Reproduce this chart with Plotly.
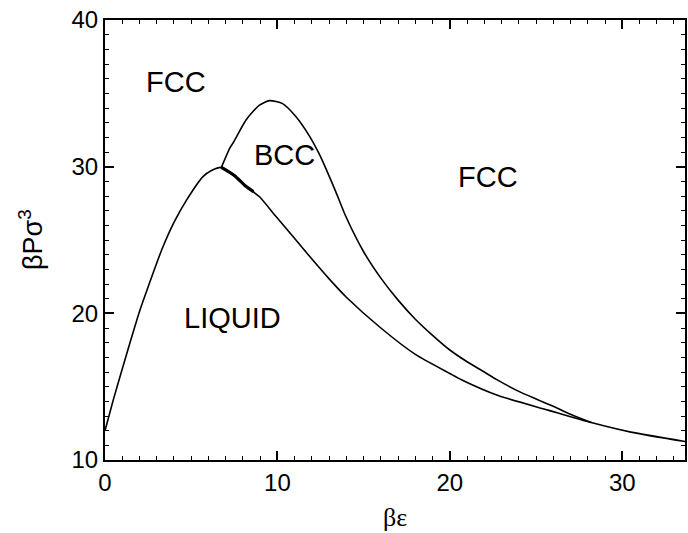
import plotly.graph_objects as go

# Liquid / solid boundary (lower curve)
lower_x = [0, 0.48, 1.0, 1.5, 2.02, 2.5, 3.28, 4.0, 4.72, 5.67, 6.2, 6.75, 7.5, 8.19, 8.96, 9.92,
           11, 12, 13, 14, 16, 18, 20, 20.7, 22.8, 25.7, 28.2, 30.5, 33.7]
lower_y = [12.0, 14.1, 16.2, 18.2, 20.2, 21.8, 24.3, 26.2, 27.7, 29.3, 29.75, 29.95, 29.4, 28.64, 27.95, 26.6,
           25.1, 23.7, 22.35, 21.1, 19.0, 17.2, 15.9, 15.46, 14.4, 13.4, 12.55, 11.9, 11.25]

# BCC / FCC boundary (upper curve)
upper_x = [6.75, 7.23, 7.42, 8.19, 8.96, 9.54, 10.3, 11.08, 11.85, 12.43, 12.8, 13.4, 13.97,
           15, 16, 17, 18, 19, 20, 21, 22, 22.7, 24, 25, 26, 27, 28.2]
upper_y = [29.95, 31.25, 31.6, 33.2, 34.2, 34.5, 34.3, 33.4, 32.1, 30.85, 29.9, 28.25, 26.6,
           24.2, 22.4, 20.9, 19.6, 18.5, 17.5, 16.7, 16.0, 15.5, 14.68, 14.16, 13.66, 13.12, 12.55]

# Liquid-BCC coexistence segment (drawn thicker)
thick_x = [6.75, 7.5, 8.19, 8.6]
thick_y = [29.95, 29.4, 28.64, 28.3]

region_labels = ["FCC", "BCC", "FCC", "LIQUID"]
region_x = [4.1, 10.4, 22.2, 7.4]
region_y = [35.8, 30.8, 29.3, 19.7]

x_ticks = [0, 10, 20, 30]
y_ticks = [10, 20, 30, 40]

fig = go.Figure()
fig.add_trace(go.Scatter(x=lower_x, y=lower_y, mode="lines",
                         line=dict(color="black", width=1.6, shape="spline", smoothing=0.6),
                         showlegend=False, hoverinfo="skip"))
fig.add_trace(go.Scatter(x=upper_x, y=upper_y, mode="lines",
                         line=dict(color="black", width=1.6, shape="spline", smoothing=0.6),
                         showlegend=False, hoverinfo="skip"))
fig.add_trace(go.Scatter(x=thick_x, y=thick_y, mode="lines",
                         line=dict(color="black", width=3.2, shape="spline", smoothing=0.6),
                         showlegend=False, hoverinfo="skip"))

for t, x, y in zip(region_labels, region_x, region_y):
    fig.add_annotation(x=x, y=y, text=t, showarrow=False,
                       font=dict(family="Liberation Sans, Arial", size=29, color="black"),
                       xanchor="center", yanchor="middle")

fig.add_annotation(xref="paper", yref="paper", x=0.5, y=0, yshift=-57,
                   text="βε", showarrow=False, xanchor="center", yanchor="middle",
                   font=dict(family="Liberation Serif, Times New Roman", size=26, color="black"))
fig.add_annotation(xref="paper", yref="paper", x=0, y=0.5, xshift=-74,
                   text="βPσ<sup>3</sup>", showarrow=False, textangle=-90,
                   xanchor="center", yanchor="middle",
                   font=dict(family="Liberation Sans, Arial", size=27, color="black"))

axis_common = dict(showline=True, linecolor="black", linewidth=2, mirror="ticks",
                   ticks="inside", ticklen=9, tickwidth=1.5, tickcolor="black",
                   showgrid=False, zeroline=False,
                   tickfont=dict(family="Liberation Sans, Arial", size=24, color="black"),
                   minor=dict(ticks="inside", ticklen=4, tickwidth=1.2, tickcolor="black",
                              dtick=1, showgrid=False))

fig.update_xaxes(range=[0, 33.64], tickvals=x_ticks, **axis_common)
fig.update_yaxes(range=[10, 40], tickvals=y_ticks, **axis_common)

fig.update_layout(width=688, height=533,
                  margin=dict(l=105, r=1, t=20, b=73),
                  plot_bgcolor="white", paper_bgcolor="white")

fig.write_html("out.html")
